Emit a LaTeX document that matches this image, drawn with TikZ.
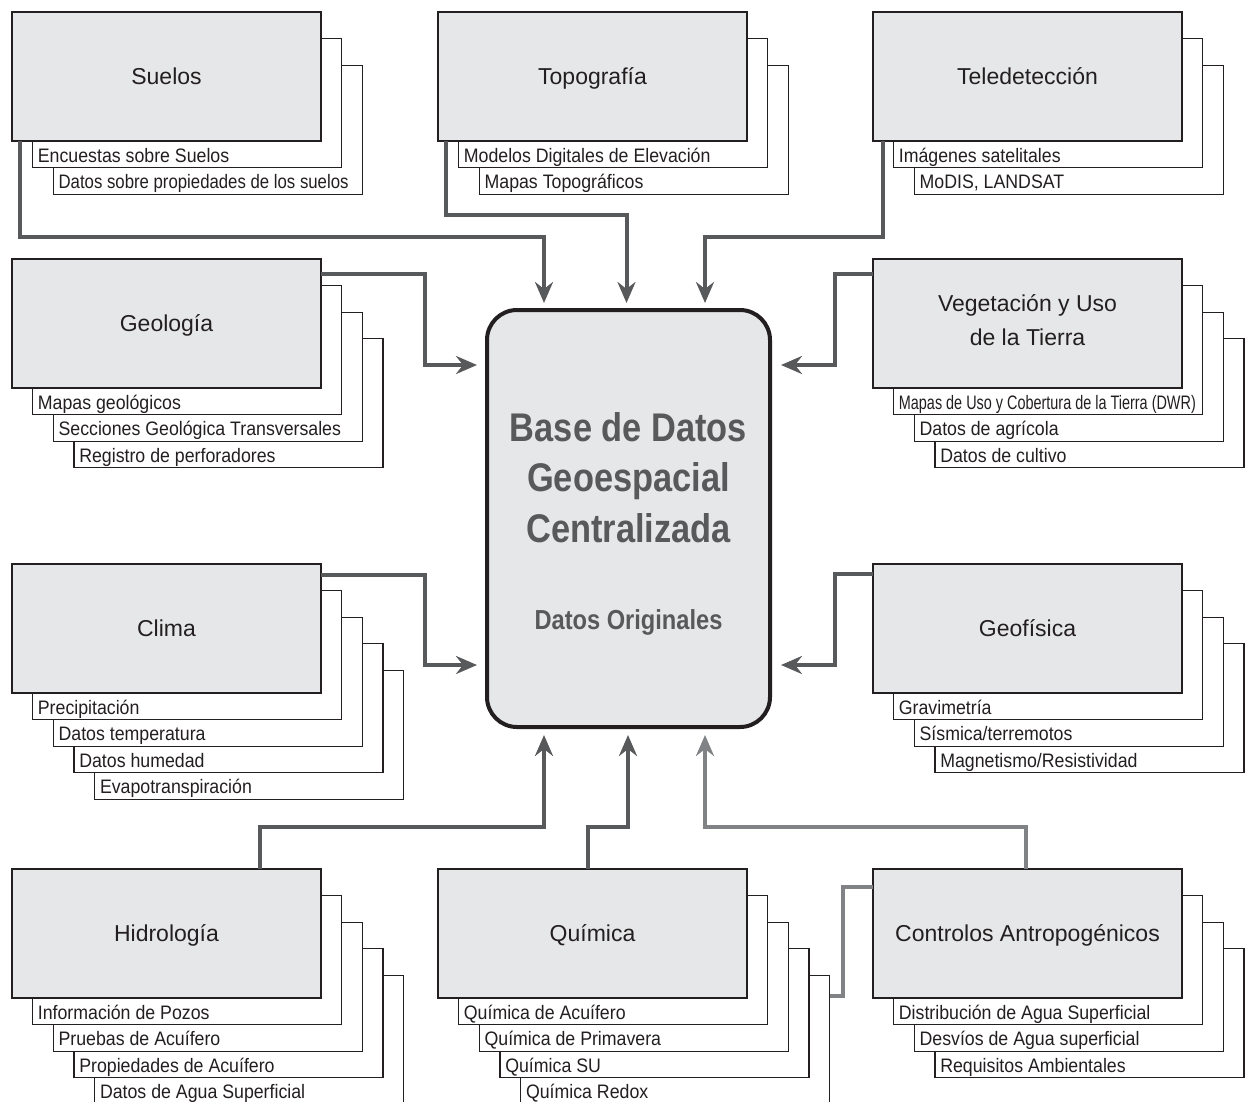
\documentclass[tikz,border=0pt]{standalone}
\usepackage{fontspec}
\setmainfont{Liberation Sans}
\newfontfamily\condfont[FakeStretch=0.91]{Liberation Sans}
\newfontfamily\condfontn[FakeStretch=0.86]{Liberation Sans}
\newfontfamily\condfontx[FakeStretch=0.74]{Liberation Sans}
\newfontfamily\condbold[FakeStretch=0.86]{Liberation Sans Bold}
\usetikzlibrary{arrows.meta,calc}
\definecolor{boxgray}{HTML}{E6E7E8}
\definecolor{ink}{HTML}{231F20}
\definecolor{connc}{HTML}{58595B}
\definecolor{connlc}{HTML}{808285}
\tikzset{
  mainbox/.style={draw=ink, fill=boxgray, line width=1.5pt, minimum width=309pt, minimum height=129pt, inner sep=0pt, outer sep=0pt, anchor=north west},
  layerbox/.style={draw=ink, fill=white, line width=1.3pt, minimum width=309pt, minimum height=129pt, inner sep=0pt, outer sep=0pt, anchor=north west},
  title/.style={text=ink, font=\fontsize{23}{27}\selectfont, text height=16.5pt, text depth=0pt, inner sep=0pt},
  sublabel/.style={text=ink, font=\condfont\fontsize{19.5}{22}\selectfont, inner sep=0pt, anchor=base west},
  dbbox/.style={draw=ink, fill=boxgray, line width=4pt, rounded corners=30pt, minimum width=283pt, minimum height=417pt, inner sep=0pt, outer sep=0pt, anchor=north west},
  dbtext/.style={text=connc, inner sep=0pt, anchor=base},
  conn/.style={draw=connc, line width=4pt, -{Stealth[length=21pt,width=18pt,inset=7pt]}},
  connl/.style={draw=connlc, line width=3.5pt}
}
\newcommand\lay[5]{%
  \node[layerbox] (#1) at ({#2+20.7*#4},{#3+26.6*#4}) {};
  \node[sublabel] (#1t) at ([xshift=5pt,yshift=5.5pt]#1.south west) {#5};}
\newcommand\mainb[4]{%
  \node[mainbox] (#1) at (#2,#3) {};
  \node[title] (#1t) at (#1.center) {#4};}
\begin{document}
\begin{tikzpicture}[x=1pt,y=-1pt]
\useasboundingbox (0,0) rectangle (1245,1101);
\fill[white] (0,0) rectangle (1245,1101);
\clip (0,0) rectangle (1245,1101);

% Suelos
\lay{sue2}{12}{12}{2}{{\condfontn Datos sobre propiedades de los suelos}}
\lay{sue1}{12}{12}{1}{Encuestas sobre Suelos}
\mainb{sue}{12}{12}{Suelos}
% Topografia
\lay{topo2}{438}{12}{2}{Mapas Topográficos}
\lay{topo1}{438}{12}{1}{Modelos Digitales de Elevación}
\mainb{topo}{438}{12}{Topografía}
% Teledeteccion
\lay{tele2}{873}{12}{2}{MoDIS, LANDSAT}
\lay{tele1}{873}{12}{1}{Imágenes satelitales}
\mainb{tele}{873}{12}{Teledetección}
% Geologia
\lay{geo3}{12}{259}{3}{Registro de perforadores}
\lay{geo2}{12}{259}{2}{Secciones Geológica Transversales}
\lay{geo1}{12}{259}{1}{Mapas geológicos}
\mainb{geo}{12}{259}{Geología}
% Vegetacion
\lay{veg3}{873}{259}{3}{Datos de cultivo}
\lay{veg2}{873}{259}{2}{Datos de agrícola}
\lay{veg1}{873}{259}{1}{{\condfontx Mapas de Uso y Cobertura de la Tierra (DWR)}}
\node[mainbox] (veg) at (873,259) {};
\node[title, anchor=base] (vegt1) at ([yshift=12.5pt]veg.center) {Vegetación y Uso};
\node[title, anchor=base] (vegt2) at ([yshift=-21.5pt]veg.center) {de la Tierra};
% Clima
\lay{clima4}{12}{564}{4}{Evapotranspiración}
\lay{clima3}{12}{564}{3}{Datos humedad}
\lay{clima2}{12}{564}{2}{Datos temperatura}
\lay{clima1}{12}{564}{1}{Precipitación}
\mainb{clima}{12}{564}{Clima}
% Geofisica
\lay{geof3}{873}{564}{3}{Magnetismo/Resistividad}
\lay{geof2}{873}{564}{2}{Sísmica/terremotos}
\lay{geof1}{873}{564}{1}{Gravimetría}
\mainb{geof}{873}{564}{Geofísica}
% Hidrologia
\lay{hidro4}{12}{869}{4}{Datos de Agua Superficial}
\lay{hidro3}{12}{869}{3}{Propiedades de Acuífero}
\lay{hidro2}{12}{869}{2}{Pruebas de Acuífero}
\lay{hidro1}{12}{869}{1}{Información de Pozos}
\mainb{hidro}{12}{869}{Hidrología}
% Quimica
\lay{quim4}{438}{869}{4}{Química Redox}
\lay{quim3}{438}{869}{3}{Química SU}
\lay{quim2}{438}{869}{2}{Química de Primavera}
\lay{quim1}{438}{869}{1}{Química de Acuífero}
\mainb{quim}{438}{869}{Química}
% Controles
\lay{ctrl3}{873}{869}{3}{Requisitos Ambientales}
\lay{ctrl2}{873}{869}{2}{Desvíos de Agua superficial}
\lay{ctrl1}{873}{869}{1}{Distribución de Agua Superficial}
\mainb{ctrl}{873}{869}{Controlos Antropogénicos}

% Central database
\node[dbbox] (db) at (487,310) {};
\node[dbtext, font=\condbold\fontsize{40}{48}\selectfont] (dbt1) at (628.5,441) {Base de Datos};
\node[dbtext, font=\condbold\fontsize{40}{48}\selectfont] (dbt2) at (628.5,491.5) {Geoespacial};
\node[dbtext, font=\condbold\fontsize{40}{48}\selectfont] (dbt3) at (628.5,542) {Centralizada};
\node[dbtext, font=\condbold\fontsize{27.5}{32}\selectfont] (dbt4) at (628.5,629) {Datos Originales};

% Connectors
\draw[conn] ([xshift=8pt]sue.south west) -- ++(0,96) -| ([xshift=-84.5pt,yshift=7pt]db.north);
\draw[conn] ([xshift=8pt]topo.south west) -- ++(0,74) -| ([xshift=-2pt,yshift=7pt]db.north);
\draw[conn] ([xshift=10pt]tele.south west) -- ++(0,96) -| ([xshift=76.5pt,yshift=7pt]db.north);
\draw[conn] ([yshift=-15pt]geo.north east) -- ++(104,0) |- ([xshift=-10pt,yshift=153.5pt]db.west);
\draw[conn] ([yshift=-11pt]clima.north east) -- ++(104,0) |- ([xshift=-10pt,yshift=-146.5pt]db.west);
\draw[conn] ([yshift=-15pt]veg.north west) -- ++(-38,0) |- ([xshift=11pt,yshift=153.5pt]db.east);
\draw[conn] ([yshift=-10pt]geof.north west) -- ++(-38,0) |- ([xshift=11pt,yshift=-146.5pt]db.east);
\draw[conn] ([xshift=248pt]hidro.north west) -- ++(0,-42) -| ([xshift=-84.5pt,yshift=-8pt]db.south);
\draw[conn] ([xshift=150pt]quim.north west) -- ++(0,-42) -| ([xshift=-0.5pt,yshift=-8pt]db.south);
\draw[conn, draw=connlc] ([xshift=153pt]ctrl.north west) -- ++(0,-42) -| ([xshift=76.5pt,yshift=-8pt]db.south);
\draw[connl] ([yshift=-18pt]ctrl.north west) -- ++(-30,0) |- ([yshift=44pt]quim4.east);
\end{tikzpicture}
\end{document}
